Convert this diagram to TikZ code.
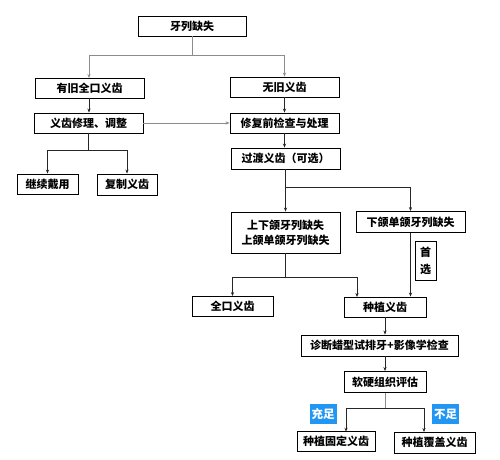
\documentclass[tikz,border=0pt]{standalone}
\usepackage{fontspec}
\setmainfont{Noto Sans CJK SC}
\usetikzlibrary{arrows.meta}
\begin{document}
\begin{tikzpicture}[x=1pt,y=-1pt,
  box/.style={draw=black,line width=0.9pt,fill=white,inner sep=0pt,align=center,font=\fontsize{11}{15}\selectfont\bfseries},
  tag/.style={fill=tagblue,text=white,inner sep=0pt,minimum width=27pt,minimum height=20pt,font=\fontsize{11.5}{13}\selectfont\bfseries},
  conn/.style={line width=0.8pt,draw=black!85,-{Stealth[length=4pt,width=3.2pt]}},
  lin/.style={line width=0.8pt,draw=black!85},
  gconn/.style={conn,draw=black!45},
  glin/.style={lin,draw=black!45}]
\definecolor{tagblue}{RGB}{33,150,243}
\useasboundingbox (0,0) rectangle (500,459);
\node[box,minimum width=108pt,minimum height=20pt] (top) at (192,26) {牙列缺失};
\node[box,minimum width=109pt,minimum height=20pt] (old) at (89.5,88) {有旧全口义齿};
\node[box,minimum width=109pt,minimum height=20pt] (none) at (284.5,87) {无旧义齿};
\node[box,minimum width=109pt,minimum height=20pt] (repair) at (88.5,123) {义齿修理、调整};
\node[box,minimum width=109pt,minimum height=20pt] (prep) at (284.5,123) {修复前检查与处理};
\node[box,minimum width=109pt,minimum height=21pt] (trans) at (285.5,158.5) {过渡义齿（可选）};
\node[box,minimum width=109pt,minimum height=41pt] (both) at (285.5,232.5) {上下颌牙列缺失\\上颌单颌牙列缺失};
\node[box,minimum width=109pt,minimum height=21pt] (lower) at (410.5,222) {下颌单颌牙列缺失};
\node[box,minimum width=21pt,minimum height=39pt,line width=0.7pt,font=\fontsize{11}{17}\selectfont\bfseries] (pref) at (425.5,261) {首\\选};
\node[box,minimum width=81pt,minimum height=20pt] (full) at (232.5,306.5) {全口义齿};
\node[box,minimum width=82pt,minimum height=20pt] (impl) at (385,307) {种植义齿};
\node[box,minimum width=157pt,minimum height=21pt] (diag) at (379.5,345.5) {诊断蜡型试排牙+影像学检查};
\node[box,minimum width=82pt,minimum height=21pt] (eval) at (385,382) {软硬组织评估};
\node[box,minimum width=78pt,minimum height=20pt] (fixed) at (336,441.7) {种植固定义齿};
\node[box,minimum width=81pt,minimum height=21pt] (over) at (434.5,442.5) {种植覆盖义齿};
\node[box,minimum width=61pt,minimum height=20pt] (cont) at (47.5,184) {继续戴用};
\node[box,minimum width=60pt,minimum height=21pt] (copy) at (127,184.5) {复制义齿};
\node[tag] (enough) at (323,414) {充足};
\node[tag] (lack) at (445.5,414) {不足};
% junction coordinates
\coordinate (j1) at (192,55);
\coordinate (j2) at (88.5,150);
\coordinate (j3) at (285.5,187);
\coordinate (j4) at (285.5,277);
\coordinate (j5) at (385,408);
% connectors
\draw[glin] (top.south) -- (j1);
\draw[gconn] (j1) -| (89,78);
\draw[gconn] (j1) -| (none.north);
\draw[conn] (89,98) -- (repair.north -| 89,0);
\draw[gconn] (repair.east) -- (prep.west);
\draw[conn] (none.south) -- (prep.north);
\draw[conn] (prep.south) -- (prep.south |- trans.north);
\draw[lin] (repair.south) -- (j2);
\draw[conn] (j2) -| (cont.north);
\draw[conn] (j2) -| (copy.north);
\draw[conn] (trans.south) -- (both.north);
\draw[conn] (j3) -| (lower.north);
\draw[conn] (lower.south) -- (lower.south |- impl.north);
\draw[lin] (both.south) -- (j4);
\draw[conn] (j4) -| (full.north);
\draw[conn] (j4) -| (357,297);
\draw[conn] (impl.south) -- (impl.south |- diag.north);
\draw[conn] (diag.south -| eval.south) -- (eval.north);
\draw[glin] (eval.south) -- (j5);
\draw[conn] (j5) -| (346,431.7);
\draw[conn] (j5) -| (424,432);
\end{tikzpicture}
\end{document}
